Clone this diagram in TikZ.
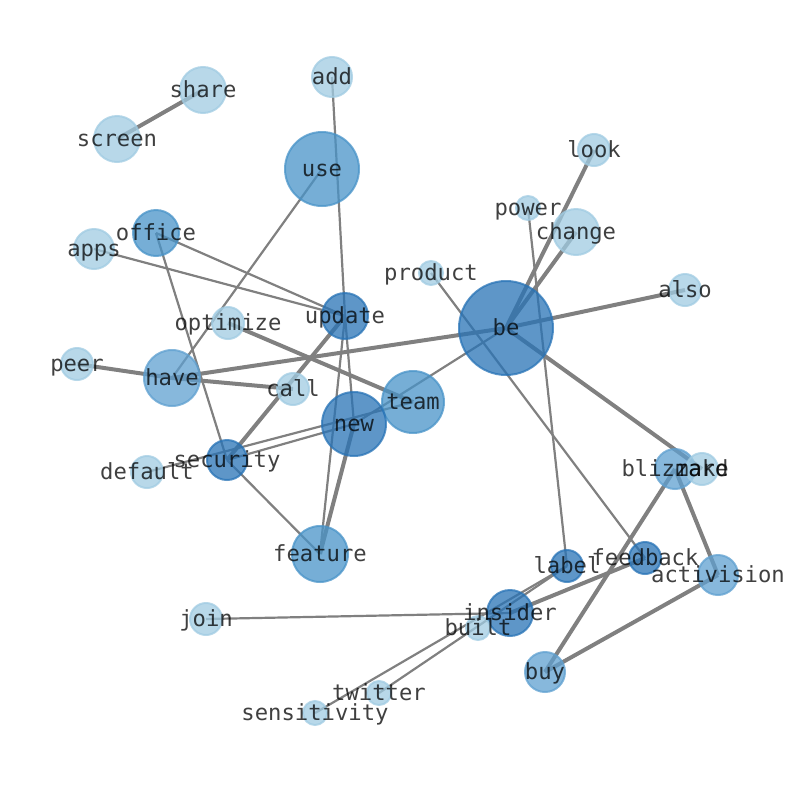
\documentclass[tikz,border=0pt]{standalone}
\usepackage{fontspec}
\setmainfont{DejaVu Sans Mono}
\usepackage{xcolor}
\usepackage{tikz}
\usetikzlibrary{backgrounds}
\definecolor{cLight}{RGB}{160,203,226}
\definecolor{cMid}{RGB}{95,160,208}
\definecolor{cStrong}{RGB}{72,147,200}
\definecolor{cDark}{RGB}{40,115,182}
\definecolor{cEdge}{RGB}{128,128,128}
\tikzstyle{bubble} = [circle, inner sep=0pt, line width=2pt, fill opacity=0.75, draw opacity=0.75]
\tikzstyle{light} = [bubble, fill=cLight, draw=cLight]
\tikzstyle{mid} = [bubble, fill=cMid, draw=cMid]
\tikzstyle{strong} = [bubble, fill=cStrong, draw=cStrong]
\tikzstyle{dark} = [bubble, fill=cDark, draw=cDark]
\tikzstyle{word} = [inner sep=0pt, text=black, text opacity=0.75, font=\fontsize{22.2}{26}\selectfont, text height=19pt, text depth=5pt]
\tikzstyle{link} = [line width=2.2pt, draw=cEdge]
\tikzstyle{heavy} = [line width=4pt, draw=cEdge]

\begin{document}
\begin{tikzpicture}[x=1pt, y=-1pt]
        \useasboundingbox (0,0) rectangle (794,790);
        % bubbles
        \node (share) [light, minimum size=46pt] at (203,90) {};
        \node (screen) [light, minimum size=46pt] at (117,139) {};
        \node (add) [light, minimum size=40pt] at (332,77) {};
        \node (use) [strong, minimum size=74pt] at (322,169) {};
        \node (look) [light, minimum size=32pt] at (594,150) {};
        \node (power) [light, minimum size=24pt] at (528,208) {};
        \node (change) [light, minimum size=46pt] at (576,232) {};
        \node (office) [strong, minimum size=46pt] at (156,233) {};
        \node (apps) [light, minimum size=40pt] at (94,249) {};
        \node (product) [light, minimum size=24pt] at (431,273) {};
        \node (also) [light, minimum size=32pt] at (685,290) {};
        \node (be) [dark, minimum size=94pt] at (506,328) {};
        \node (update) [dark, minimum size=46pt] at (345,316) {};
        \node (optimize) [light, minimum size=32pt] at (228,323) {};
        \node (peer) [light, minimum size=32pt] at (77,364) {};
        \node (have) [mid, minimum size=56pt] at (172,378) {};
        \node (call) [light, minimum size=32pt] at (293,389) {};
        \node (team) [strong, minimum size=62pt] at (413,402) {};
        \node (new) [dark, minimum size=64pt] at (354,424) {};
        \node (security) [dark, minimum size=40pt] at (227,460) {};
        \node (default) [light, minimum size=32pt] at (147,472) {};
        \node (blizzard) [mid, minimum size=40pt] at (675,469) {};
        \node (make) [light, minimum size=32pt] at (702,469) {};
        \node (feature) [strong, minimum size=56pt] at (320,554) {};
        \node (label) [dark, minimum size=32pt] at (567,566) {};
        \node (feedback) [dark, minimum size=32pt] at (645,558) {};
        \node (activision) [mid, minimum size=40pt] at (718,575) {};
        \node (join) [light, minimum size=32pt] at (206,619) {};
        \node (insider) [dark, minimum size=46pt] at (510,613) {};
        \node (built) [light, minimum size=24pt] at (478,628) {};
        \node (buy) [mid, minimum size=40pt] at (545,672) {};
        \node (twitter) [light, minimum size=24pt] at (379,693) {};
        \node (sensitivity) [light, minimum size=24pt] at (315,713) {};

        % links
        \begin{pgfonlayer}{background}
        \draw [heavy] (screen.center) -- (share.center);
        \draw [link] (add.center) -- (update.center);
        \draw [link] (use.center) -- (have.center);
        \draw [link] (office.center) -- (update.center);
        \draw [link] (apps.center) -- (update.center);
        \draw [link] (office.center) -- (security.center);
        \draw [link] (power.center) -- (label.center);
        \draw [link] (product.center) -- (feedback.center);
        \draw [heavy] (be.center) -- (look.center);
        \draw [heavy] (be.center) -- (change.center);
        \draw [heavy] (be.center) -- (also.center);
        \draw [heavy] (be.center) -- (have.center);
        \draw [heavy] (be.center) -- (make.center);
        \draw [link] (be.center) -- (new.center);
        \draw [heavy] (peer.center) -- (have.center);
        \draw [heavy] (have.center) -- (call.center);
        \draw [heavy] (optimize.center) -- (team.center);
        \draw [heavy] (update.center) -- (security.center);
        \draw [link] (update.center) -- (new.center);
        \draw [link] (update.center) -- (feature.center);
        \draw [heavy] (new.center) -- (feature.center);
        \draw [link] (security.center) -- (new.center);
        \draw [link] (default.center) -- (team.center);
        \draw [link] (security.center) -- (feature.center);
        \draw [heavy] (blizzard.center) -- (activision.center);
        \draw [heavy] (blizzard.center) -- (buy.center);
        \draw [heavy] (activision.center) -- (buy.center);
        \draw [heavy] (feedback.center) -- (insider.center);
        \draw [link] (join.center) -- (insider.center);
        \draw [link] (twitter.center) -- (label.center);
        \draw [link] (sensitivity.center) -- (label.center);
        \end{pgfonlayer}

        % words
        \node [word] at (share) {share};
        \node [word] at (screen) {screen};
        \node [word] at (add) {add};
        \node [word] at (use) {use};
        \node [word] at (look) {look};
        \node [word] at (power) {power};
        \node [word] at (change) {change};
        \node [word] at (office) {office};
        \node [word] at (apps) {apps};
        \node [word] at (product) {product};
        \node [word] at (also) {also};
        \node [word] at (be) {be};
        \node [word] at (update) {update};
        \node [word] at (optimize) {optimize};
        \node [word] at (peer) {peer};
        \node [word] at (have) {have};
        \node [word] at (call) {call};
        \node [word] at (team) {team};
        \node [word] at (new) {new};
        \node [word] at (security) {security};
        \node [word] at (default) {default};
        \node [word] at (blizzard) {blizzard};
        \node [word] at (make) {make};
        \node [word] at (feature) {feature};
        \node [word] at (label) {label};
        \node [word] at (feedback) {feedback};
        \node [word] at (activision) {activision};
        \node [word] at (join) {join};
        \node [word] at (insider) {insider};
        \node [word] at (built) {built};
        \node [word] at (buy) {buy};
        \node [word] at (twitter) {twitter};
        \node [word] at (sensitivity) {sensitivity};
\end{tikzpicture}
\end{document}
